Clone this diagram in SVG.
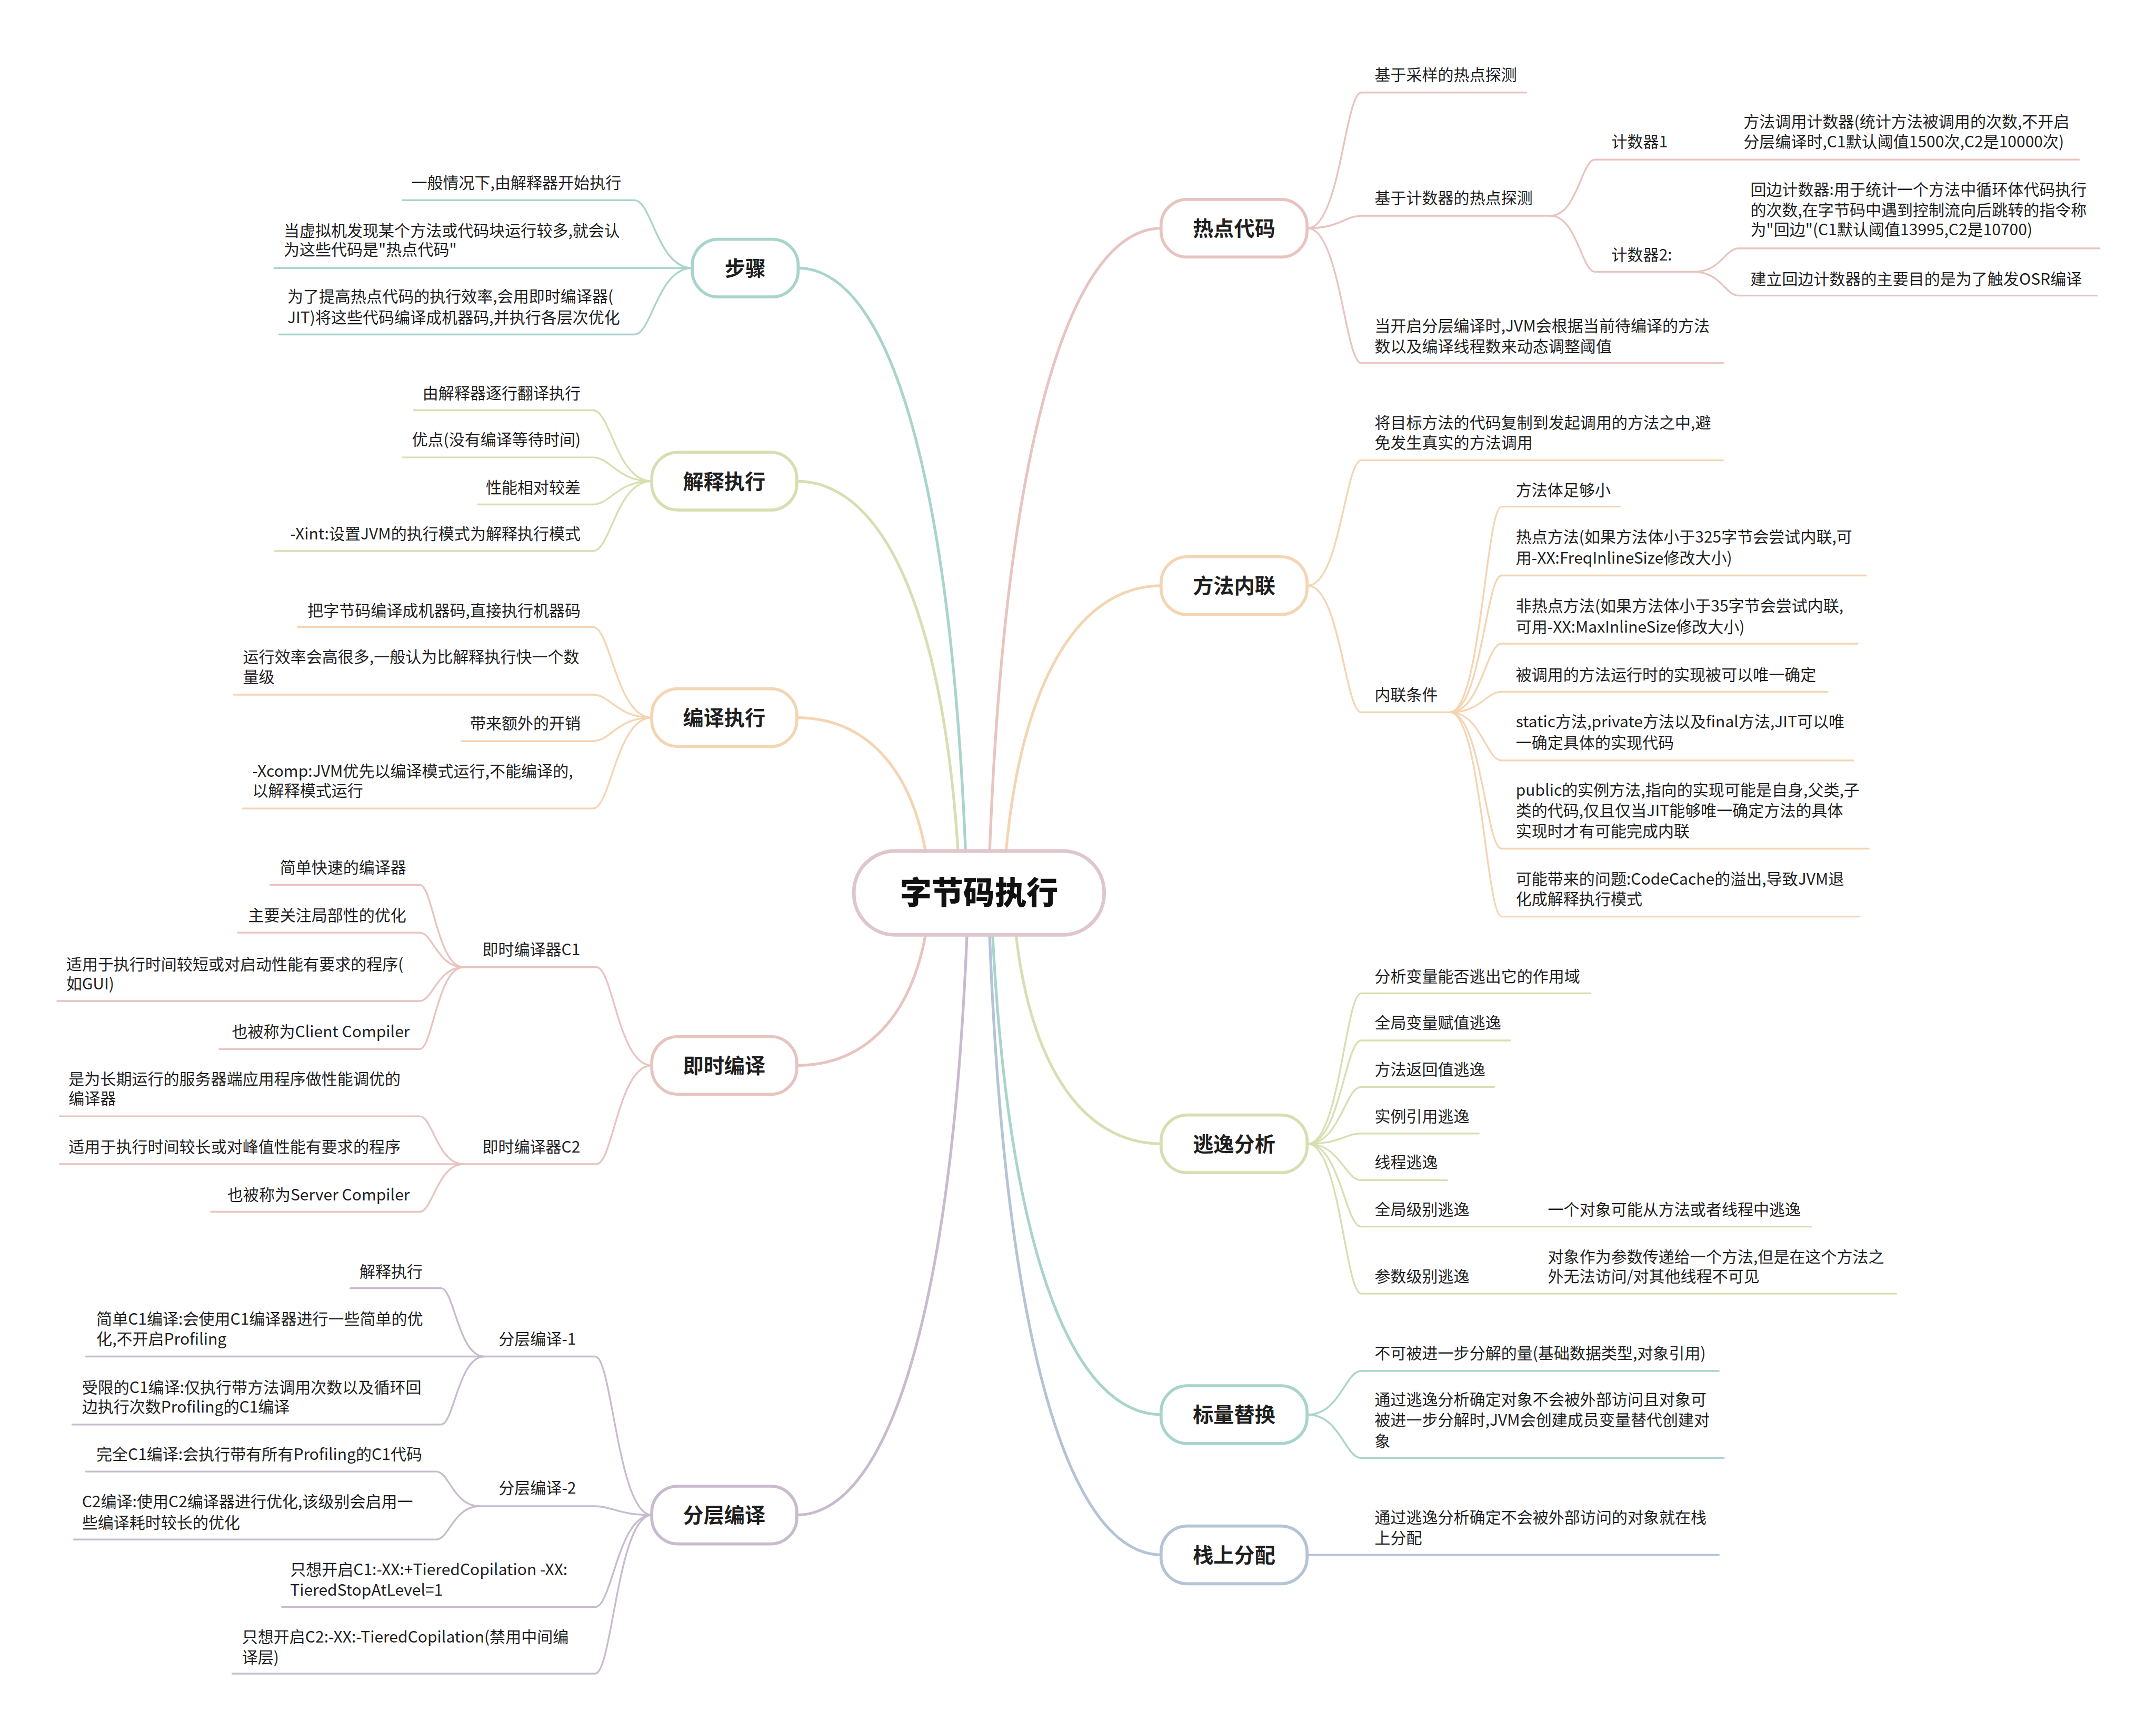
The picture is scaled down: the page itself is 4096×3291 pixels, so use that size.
<svg xmlns="http://www.w3.org/2000/svg" width="4096" height="3291" viewBox="0 0 4096 3291">
<style>
text{font-family:"Noto Sans CJK SC","Noto Sans",sans-serif;fill:#1f1f1f;font-size:11.5px}
.e{text-anchor:end}
.n{font-size:15px;font-weight:700;text-anchor:middle}
.c{font-size:23px;font-weight:900;text-anchor:middle;fill:#111}
#connectors path{fill:none;stroke-width:1.3;stroke-linecap:round}
#connectors .m{stroke-width:2}
.pk{stroke:#E8C4C0}.or{stroke:#F4D5B3}.gr{stroke:#D7DFB2}.tl{stroke:#A9D4CB}.bl{stroke:#B4C3D6}.mv{stroke:#C9BBCE}
rect{fill:#fff;stroke-width:2.2}
</style>
<rect x="0" y="0" width="4096" height="3291" fill="#fff" stroke="none"/>
<g transform="scale(2.612245)">
<g id="connectors">
<path class="m pk" d="M719 640C729 332 775.7 166 845 166"/>
<path class="m or" d="M730 640C739 501 782 426 845 426"/>
<path class="m gr" d="M737 660C745.6 772 785.6 832 845 832"/>
<path class="m tl" d="M721 660C731 900 776.8 1029 845 1029"/>
<path class="m bl" d="M719 660C729 966 774.8 1131 845 1131"/>
<path class="m tl" d="M703 640C693 351 648 195 580 195"/>
<path class="m gr" d="M698 640C688.5 451.5 644.7 350 579 350"/>
<path class="m or" d="M676 640C668.3 563 632.6 522 579 522"/>
<path class="m pk" d="M676 660C668.3 735 632.6 775 579 775"/>
<path class="m mv" d="M704 660C694 947 648 1102 579 1102"/>
<g class="pk">
<path d="M951 166C974.4 166 978.3 67.3 990 67.3H1110"/>
<path d="M951 166C974.4 166 978.3 157 990 157H1127.4"/>
<path d="M951 166C974.4 166 978.3 264.1 990 264.1H1253.5"/>
<path d="M1127.4 157C1147 157 1150.2 116.1 1160 116.1H1512"/>
<path d="M1127.4 157C1147 157 1150.2 197.7 1160 197.7H1232"/>
<path d="M1232 197.7C1251.4 197.7 1254.7 180.7 1264.4 180.7H1527"/>
<path d="M1232 197.7C1251.4 197.7 1254.7 215 1264.4 215H1525"/>
</g>
<g class="or">
<path d="M951 426C974.4 426 978.3 334.8 990 334.8H1253"/>
<path d="M951 426C974.4 426 978.3 518.1 990 518.1H1054.4"/>
<path d="M1054.4 518.1C1077 518.1 1080.7 368.5 1092 368.5H1178.3"/>
<path d="M1054.4 518.1C1077 518.1 1080.7 418.6 1092 418.6H1357.3"/>
<path d="M1054.4 518.1C1077 518.1 1080.7 468.2 1092 468.2H1350.9"/>
<path d="M1054.4 518.1C1077 518.1 1080.7 503.2 1092 503.2H1329.2"/>
<path d="M1054.4 518.1C1077 518.1 1080.7 553.1 1092 553.1H1347.9"/>
<path d="M1054.4 518.1C1077 518.1 1080.7 617.3 1092 617.3H1359.1"/>
<path d="M1054.4 518.1C1077 518.1 1080.7 666.7 1092 666.7H1352.1"/>
</g>
<g class="gr">
<path d="M951 832C974.4 832 978.3 722.5 990 722.5H1156.6"/>
<path d="M951 832C974.4 832 978.3 756.8 990 756.8H1098.4"/>
<path d="M951 832C974.4 832 978.3 790.6 990 790.6H1086.9"/>
<path d="M951 832C974.4 832 978.3 824.5 990 824.5H1075.5"/>
<path d="M951 832C974.4 832 978.3 858.5 990 858.5H1052.5"/>
<path d="M951 832C974.4 832 978.3 892.2 990 892.2H1317.3"/>
<path d="M951 832C974.4 832 978.3 941 990 941H1379"/>
</g>
<g class="tl">
<path d="M951 1029C974.4 1029 978.3 997.2 990 997.2H1250"/>
<path d="M951 1029C974.4 1029 978.3 1060.6 990 1060.6H1253.7"/>
</g>
<g class="bl">
<path d="M951 1131H1250"/>
</g>
<g class="tl">
<path d="M503.5 195C478.2 195 474 145.6 461.4 145.6H292.7"/>
<path d="M503.5 195H199.5"/>
<path d="M503.5 195C478.2 195 474 243.3 461.4 243.3H203"/>
</g>
<g class="gr">
<path d="M474 350C448.4 350 444.1 298.4 431.3 298.4H301"/>
<path d="M474 350C448.4 350 444.1 332.7 431.3 332.7H292.7"/>
<path d="M474 350C448.4 350 444.1 366.9 431.3 366.9H347.6"/>
<path d="M474 350C448.4 350 444.1 400.8 431.3 400.8H200"/>
</g>
<g class="or">
<path d="M474 522C448.4 522 444.1 456.1 431.3 456.1H216.5"/>
<path d="M474 522C448.4 522 444.1 505.3 431.3 505.3H170.1"/>
<path d="M474 522C448.4 522 444.1 539.1 431.3 539.1H335.8"/>
<path d="M474 522C448.4 522 444.1 588.1 431.3 588.1H176.7"/>
</g>
<g class="pk">
<path d="M474 775C449.8 775 445.8 703.5 433.7 703.5H337.3"/>
<path d="M474 775C449.8 775 445.8 846.8 433.7 846.8H43.5"/>
<path d="M337.3 703.5C318 703.5 314.8 643.6 305.2 643.6H196.6"/>
<path d="M337.3 703.5C318 703.5 314.8 678.4 305.2 678.4H173"/>
<path d="M337.3 703.5C318 703.5 314.8 728.1 305.2 728.1H41.7"/>
<path d="M337.3 703.5C318 703.5 314.8 763.1 305.2 763.1H159.5"/>
<path d="M337.3 846.8C318 846.8 314.8 812 305.2 812H43.5"/>
<path d="M337.3 846.8C318 846.8 314.8 881.4 305.2 881.4H153.4"/>
</g>
<g class="mv">
<path d="M474 1102C449.3 1102 445.2 986.7 432.9 986.7H62.4"/>
<path d="M474 1102C449.3 1102 445.2 1095.6 432.9 1095.6H348.8"/>
<path d="M474 1102C449.3 1102 445.2 1168.9 432.9 1168.9H205.1"/>
<path d="M474 1102C449.3 1102 445.2 1217.4 432.9 1217.4H169"/>
<path d="M352.3 986.7C333.3 986.7 330.2 937 320.7 937H254.8"/>
<path d="M352.3 986.7C333.3 986.7 330.2 1036.2 320.7 1036.2H52.6"/>
<path d="M348.8 1095.6C329.8 1095.6 326.7 1070.4 317.2 1070.4H62.4"/>
<path d="M348.8 1095.6C329.8 1095.6 326.7 1119.8 317.2 1119.8H53.7"/>
</g>
</g>

<g id="root"><rect x="621" y="619" width="182" height="61" rx="30" ry="30" style="stroke:#DFC5CC;stroke-width:2.6"/><text class="c" x="712" y="657.5">字节码执行</text></g>

<g id="hotcode"><rect class="pk" x="844.4" y="145" width="106.2" height="42" rx="19"/><text class="n" x="897.5" y="171.5">热点代码</text></g>
<g id="hc1"><text x="999.7" y="58.4">基于采样的热点探测</text></g>
<g id="hc2"><text x="999.7" y="148.1">基于计数器的热点探测</text></g>
<g id="hc3"><text x="999.7" y="241.3">当开启分层编译时,JVM会根据当前待编译的方法<tspan x="999.7" y="256">数以及编译线程数来动态调整阈值</tspan></text></g>
<g id="cnt1"><text x="1172" y="107.2">计数器1</text></g>
<g id="cnt1a"><text x="1268" y="92.7">方法调用计数器(统计方法被调用的次数,不开启<tspan x="1268" y="107.2">分层编译时,C1默认阈值1500次,C2是10000次)</tspan></text></g>
<g id="cnt2"><text x="1172" y="189.6">计数器2:</text></g>
<g id="cnt2a"><text x="1273" y="142.2">回边计数器:用于统计一个方法中循环体代码执行<tspan x="1273" y="156.8">的次数,在字节码中遇到控制流向后跳转的指令称</tspan><tspan x="1273" y="171.2">为"回边"(C1默认阈值13995,C2是10700)</tspan></text></g>
<g id="cnt2b"><text x="1273" y="207.1">建立回边计数器的主要目的是为了触发OSR编译</text></g>

<g id="inline"><rect class="or" x="844.4" y="405" width="106.2" height="42" rx="19"/><text class="n" x="897.5" y="431.5">方法内联</text></g>
<g id="in1"><text x="999.7" y="311.6">将目标方法的代码复制到发起调用的方法之中,避<tspan x="999.7" y="326.3">免发生真实的方法调用</tspan></text></g>
<g id="in2"><text x="999.7" y="509.6">内联条件</text></g>
<g id="in2a"><text x="1102.4" y="360.5">方法体足够小</text></g>
<g id="in2b"><text x="1102.4" y="394.7">热点方法(如果方法体小于325字节会尝试内联,可<tspan x="1102.4" y="410.1">用-XX:FreqInlineSize修改大小)</tspan></text></g>
<g id="in2c"><text x="1102.4" y="444.8">非热点方法(如果方法体小于35字节会尝试内联,<tspan x="1102.4" y="460">可用-XX:MaxInlineSize修改大小)</tspan></text></g>
<g id="in2d"><text x="1102.4" y="494.9">被调用的方法运行时的实现被可以唯一确定</text></g>
<g id="in2e"><text x="1102.4" y="529.2">static方法,private方法以及final方法,JIT可以唯<tspan x="1102.4" y="544.3">一确定具体的实现代码</tspan></text></g>
<g id="in2f"><text x="1102.4" y="578.8">public的实例方法,指向的实现可能是自身,父类,子<tspan x="1102.4" y="593.9">类的代码,仅且仅当JIT能够唯一确定方法的具体</tspan><tspan x="1102.4" y="608.6">实现时才有可能完成内联</tspan></text></g>
<g id="in2g"><text x="1102.4" y="643.5">可能带来的问题:CodeCache的溢出,导致JVM退<tspan x="1102.4" y="658.2">化成解释执行模式</tspan></text></g>

<g id="escape"><rect class="gr" x="844.4" y="811" width="106.2" height="42" rx="19"/><text class="n" x="897.5" y="837.5">逃逸分析</text></g>
<g id="es1"><text x="999.7" y="714.2">分析变量能否逃出它的作用域</text></g>
<g id="es2"><text x="999.7" y="748.1">全局变量赋值逃逸</text></g>
<g id="es3"><text x="999.7" y="781.9">方法返回值逃逸</text></g>
<g id="es4"><text x="999.7" y="816.2">实例引用逃逸</text></g>
<g id="es5"><text x="999.7" y="849.6">线程逃逸</text></g>
<g id="es6"><text x="999.7" y="883.9">全局级别逃逸</text></g>
<g id="es6a"><text x="1125.7" y="883.9">一个对象可能从方法或者线程中逃逸</text></g>
<g id="es7"><text x="999.7" y="932.4">参数级别逃逸</text></g>
<g id="es7a"><text x="1125.7" y="918.2">对象作为参数传递给一个方法,但是在这个方法之<tspan x="1125.7" y="932.4">外无法访问/对其他线程不可见</tspan></text></g>

<g id="scalar"><rect class="tl" x="844.4" y="1008" width="106.2" height="42" rx="19"/><text class="n" x="897.5" y="1034.5">标量替换</text></g>
<g id="sc1"><text x="999.7" y="988.5">不可被进一步分解的量(基础数据类型,对象引用)</text></g>
<g id="sc2"><text x="999.7" y="1022.1">通过逃逸分析确定对象不会被外部访问且对象可<tspan x="999.7" y="1037.2">被进一步分解时,JVM会创建成员变量替代创建对</tspan><tspan x="999.7" y="1052.3">象</tspan></text></g>

<g id="stack"><rect class="bl" x="844.4" y="1110" width="106.2" height="42" rx="19"/><text class="n" x="897.5" y="1136.5">栈上分配</text></g>
<g id="st1"><text x="999.7" y="1107.7">通过逃逸分析确定不会被外部访问的对象就在栈<tspan x="999.7" y="1122.8">上分配</tspan></text></g>

<g id="steps"><rect class="tl" x="503.5" y="174" width="77" height="42" rx="19"/><text class="n" x="542" y="200.5">步骤</text></g>
<g id="sp1"><text class="e" x="451.8" y="137">一般情况下,由解释器开始执行</text></g>
<g id="sp2"><text x="206.3" y="171.7">当虚拟机发现某个方法或代码块运行较多,就会认<tspan x="206.3" y="185.7">为这些代码是"热点代码"</tspan></text></g>
<g id="sp3"><text x="209" y="219.8">为了提高热点代码的执行效率,会用即时编译器(<tspan x="209" y="234.9">JIT)将这些代码编译成机器码,并执行各层次优化</tspan></text></g>

<g id="interp"><rect class="gr" x="474" y="329" width="105.5" height="42" rx="19"/><text class="n" x="526.7" y="355.5">解释执行</text></g>
<g id="ip1"><text class="e" x="422.3" y="290">由解释器逐行翻译执行</text></g>
<g id="ip2"><text class="e" x="422.3" y="323.8">优点(没有编译等待时间)</text></g>
<g id="ip3"><text class="e" x="422.3" y="358.6">性能相对较差</text></g>
<g id="ip4"><text class="e" x="422.3" y="392.4">-Xint:设置JVM的执行模式为解释执行模式</text></g>

<g id="compile"><rect class="or" x="474" y="501" width="105.5" height="42" rx="19"/><text class="n" x="526.7" y="527.5">编译执行</text></g>
<g id="cp1"><text class="e" x="422.3" y="448.3">把字节码编译成机器码,直接执行机器码</text></g>
<g id="cp2"><text x="176.7" y="482.1">运行效率会高很多,一般认为比解释执行快一个数<tspan x="176.7" y="496.4">量级</tspan></text></g>
<g id="cp3"><text class="e" x="422.3" y="530.2">带来额外的开销</text></g>
<g id="cp4"><text x="183.6" y="565.1">-Xcomp:JVM优先以编译模式运行,不能编译的,<tspan x="183.6" y="579.2">以解释模式运行</tspan></text></g>

<g id="jit"><rect class="pk" x="474" y="754" width="105.5" height="42" rx="19"/><text class="n" x="526.7" y="780.5">即时编译</text></g>
<g id="c1"><text class="e" x="422" y="694.9">即时编译器C1</text></g>
<g id="c1a"><text class="e" x="295.5" y="635.1">简单快速的编译器</text></g>
<g id="c1b"><text class="e" x="295.5" y="669.9">主要关注局部性的优化</text></g>
<g id="c1c"><text x="48.1" y="705.4">适用于执行时间较短或对启动性能有要求的程序(<tspan x="48.1" y="719.5">如GUI)</tspan></text></g>
<g id="c1d"><text class="e" x="298" y="754.7">也被称为Client Compiler</text></g>
<g id="c2"><text class="e" x="422" y="838.2">即时编译器C2</text></g>
<g id="c2a"><text x="49.9" y="788.9">是为长期运行的服务器端应用程序做性能调优的<tspan x="49.9" y="803">编译器</tspan></text></g>
<g id="c2b"><text x="49.9" y="838.2">适用于执行时间较长或对峰值性能有要求的程序</text></g>
<g id="c2c"><text class="e" x="298" y="873.3">也被称为Server Compiler</text></g>

<g id="tiered"><rect class="mv" x="474" y="1081" width="105.5" height="42" rx="19"/><text class="n" x="526.7" y="1107.5">分层编译</text></g>
<g id="t1"><text class="e" x="419" y="978">分层编译-1</text></g>
<g id="t1a"><text class="e" x="307.4" y="928.9">解释执行</text></g>
<g id="t1b"><text x="70.1" y="963.7">简单C1编译:会使用C1编译器进行一些简单的优<tspan x="70.1" y="978">化,不开启Profiling</tspan></text></g>
<g id="t1c"><text x="59.6" y="1013.2">受限的C1编译:仅执行带方法调用次数以及循环回<tspan x="59.6" y="1027.5">边执行次数Profiling的C1编译</tspan></text></g>
<g id="t2"><text class="e" x="419" y="1086.5">分层编译-2</text></g>
<g id="t2a"><text class="e" x="307" y="1061.9">完全C1编译:会执行带有所有Profiling的C1代码</text></g>
<g id="t2b"><text x="59.6" y="1096.3">C2编译:使用C2编译器进行优化,该级别会启用一<tspan x="59.6" y="1111.5">些编译耗时较长的优化</tspan></text></g>
<g id="t3"><text x="211" y="1145.9">只想开启C1:-XX:+TieredCopilation -XX:<tspan x="211" y="1160.8">TieredStopAtLevel=1</tspan></text></g>
<g id="t4"><text x="176" y="1194.6">只想开启C2:-XX:-TieredCopilation(禁用中间编<tspan x="176" y="1209.7">译层)</tspan></text></g>
</g>
</svg>
